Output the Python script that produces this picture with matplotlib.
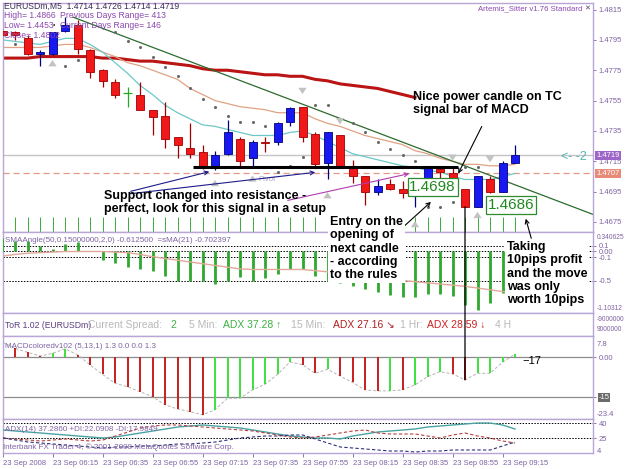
import numpy as np
import matplotlib.pyplot as plt
from matplotlib.patches import ConnectionPatch, FancyArrowPatch
from matplotlib.transforms import blended_transform_factory

plt.rcParams['font.family'] = ['Liberation Sans', 'DejaVu Sans']

# ====== data (EURUSDm M5, 23 Sep 2008) ======
opens = [1.4801, 1.4800, 1.4796, 1.4786, 1.4786, 1.4801, 1.4805, 1.4788, 1.4775, 1.4767,
         1.4760, 1.4759, 1.4749, 1.4745, 1.4731, 1.4724, 1.4721, 1.4711, 1.4720, 1.4730,
         1.4717, 1.4728, 1.4728, 1.4741, 1.4751, 1.4733, 1.4714, 1.4732, 1.4711, 1.4705,
         1.4695, 1.4700, 1.4697, 1.4693, 1.4701, 1.4710, 1.4707, 1.4697, 1.4685, 1.4703,
         1.4695, 1.4714]
highs = [1.4803, 1.4801, 1.4798, 1.4788, 1.4800, 1.4810, 1.4808, 1.4789, 1.4776, 1.4769,
         1.4764, 1.4767, 1.4749, 1.4754, 1.4731, 1.4740, 1.4726, 1.4722, 1.4742, 1.4731,
         1.4729, 1.4731, 1.4741, 1.4751, 1.4751, 1.4734, 1.4734, 1.4732, 1.4716, 1.4705,
         1.4703, 1.4703, 1.4702, 1.4702, 1.4711, 1.4711, 1.4711, 1.4697, 1.4705, 1.4705,
         1.4715, 1.4726]
lows = [1.4796, 1.4795, 1.4785, 1.4778, 1.4785, 1.4800, 1.4786, 1.4770, 1.4764, 1.4757,
        1.4751, 1.4749, 1.4732, 1.4724, 1.4717, 1.4717, 1.4710, 1.4709, 1.4719, 1.4711,
        1.4712, 1.4721, 1.4726, 1.4738, 1.4728, 1.4712, 1.4703, 1.4711, 1.4701, 1.4686,
        1.4693, 1.4696, 1.4691, 1.4685, 1.4700, 1.4703, 1.4697, 1.4685, 1.4685, 1.4694,
        1.4695, 1.4714]
closes = [1.4798, 1.4798, 1.4786, 1.4787, 1.4800, 1.4805, 1.4789, 1.4774, 1.4768, 1.4759,
          1.4760, 1.4749, 1.4744, 1.4730, 1.4726, 1.4720, 1.4711, 1.4719, 1.4734, 1.4715,
          1.4728, 1.4727, 1.4740, 1.4750, 1.4731, 1.4713, 1.4734, 1.4712, 1.4705, 1.4695,
          1.4699, 1.4697, 1.4694, 1.4701, 1.4711, 1.4708, 1.4697, 1.4685, 1.4705, 1.4695,
          1.4714, 1.4719]

ma_red = [1.4783, 1.4783, 1.4783, 1.4784, 1.4784, 1.4784, 1.4784, 1.4784, 1.4783, 1.4783,
          1.4782, 1.4781, 1.4781, 1.4780, 1.4779, 1.4778, 1.4776, 1.4775, 1.4775, 1.4774,
          1.4773, 1.4772, 1.4772, 1.4771, 1.4771, 1.4769, 1.4768, 1.4766, 1.4765, 1.4764,
          1.4763, 1.4761, 1.4759, 1.4757]
ma_cyan = [1.4795, 1.4794, 1.4793, 1.4792, 1.4794, 1.4796, 1.4796, 1.4792, 1.4787, 1.4780,
           1.4773, 1.4765, 1.4759, 1.4752, 1.4747, 1.4743, 1.4739, 1.4738, 1.4736, 1.4734,
           1.4732, 1.4732, 1.4732, 1.4734, 1.4735, 1.4732, 1.4728, 1.4724, 1.4720, 1.4718,
           1.4716, 1.4714, 1.4712, 1.4711, 1.4709, 1.4708, 1.4705, 1.4703, 1.4703, 1.4703,
           1.4705, 1.4707]
ma_tan = [1.4790, 1.4790, 1.4790, 1.4790, 1.4791, 1.4792, 1.4792, 1.4790, 1.4787, 1.4784,
          1.4780, 1.4778, 1.4775, 1.4772, 1.4769, 1.4763, 1.4759, 1.4755, 1.4753, 1.4751,
          1.4750, 1.4749, 1.4747, 1.4747, 1.4747, 1.4743, 1.4740, 1.4738, 1.4735, 1.4732,
          1.4730, 1.4728, 1.4726, 1.4722, 1.4720, 1.4717, 1.4715, 1.4713, 1.4713, 1.4712,
          1.4712, 1.4713]

sar_bars = [0, 1, 5, 6, 9, 10, 11, 12, 13, 14, 15, 16, 17, 18, 19, 20, 21, 22, 23, 24,
            25, 26, 28, 29, 30, 31, 32, 33, 34, 35, 36, 37, 38]
sar_vals = [1.4788, 1.4792, 1.4778, 1.4782, 1.4800, 1.4794, 1.4790, 1.4784, 1.4777, 1.4771,
            1.4763, 1.4756, 1.4751, 1.4745, 1.4741, 1.4741, 1.4738, 1.4708, 1.4712, 1.4718,
            1.4752, 1.4752, 1.4740, 1.4734, 1.4728, 1.4723, 1.4719, 1.4715, 1.4685, 1.4685,
            1.4688, 1.4711, 1.4711]

up_bars = [4, 17, 20, 26, 33, 38]
up_vals = [1.4780, 1.4701, 1.4704, 1.4693, 1.4674, 1.4680]
down_bars = [24, 27, 36, 39]
down_vals = [1.4761, 1.4741, 1.4717, 1.4716]

trend_x = [5.64, 47.24]
trend_y = [1.4810, 1.4680]
support_level, support_from, support_to = 1.4711, 15.2, 36.4
pivot_level = 1.4707
entry_price, exit_price = 1.4698, 1.4686
price_ticks = [1.4815, 1.4795, 1.4775, 1.4755, 1.4735, 1.4715, 1.4695, 1.4675]

sma_angle = [0.23, 0.18, 0.18, 0.09, 0.05, 0.13, 0.16, 0.0, -0.15, -0.20,
             -0.26, -0.30, -0.34, -0.42, -0.50, -0.51, -0.51, -0.56, -0.50, -0.44,
             -0.50, -0.46, -0.39, -0.31, -0.31, -0.43, -0.51, -0.55, -0.60, -0.65,
             -0.70, -0.75, -0.79, -0.79, -0.74, -0.74, -0.77, -0.92, -1.00, -0.89,
             -0.72, -0.61]
sma_line = [-0.08, -0.05, -0.03, -0.02, -0.01, 0.0, 0.0, 0.0, 0.0, -0.01,
            -0.02, -0.05, -0.09, -0.12, -0.15, -0.18, -0.21, -0.24, -0.27, -0.30,
            -0.31, -0.31, -0.31, -0.31, -0.31, -0.33, -0.35, -0.38, -0.41, -0.44,
            -0.47, -0.49, -0.50, -0.52, -0.54, -0.56, -0.58, -0.60, -0.63, -0.66,
            -0.69, -0.70]

macd_vals = [5.7, 3.4, 1.9, 0.5, 1.5, 3.2, 1.0, -2.9, -6.5, -9.9,
             -11.2, -13.1, -15.0, -18.1, -19.7, -20.7, -21.9, -20.0, -15.6, -15.6,
             -12.4, -10.3, -6.5, -1.8, -2.8, -6.1, -4.6, -7.1, -9.6, -12.4,
             -12.8, -12.8, -12.4, -10.5, -7.4, -5.5, -6.3, -8.6, -6.1, -6.1,
             -1.9, 1.1]
macd_colors = 'rrrrggr' + 'rrrrrrrrrr' + 'ggggggg' + 'rrgrrrrgrgggrrgggg'

adx_main = [33, 32, 31, 30, 29, 28, 27, 26, 25, 26, 28, 30, 32, 34, 36, 37, 38, 37, 36, 35,
            33, 31, 29, 27, 26, 25, 25, 24, 27, 29, 31, 32, 33, 34, 36, 37, 38, 39, 40, 40,
            38, 34]
adx_plus = [25, 24, 23, 22, 23, 24, 23, 22, 23, 27, 31, 35, 37, 38, 38, 37, 36, 35, 34, 33,
            32, 30, 28, 26, 25, 26, 28, 30, 32, 33, 30, 29, 29, 29, 27, 25, 28, 30, 27, 25,
            22, 20]
adx_minus = [25, 23, 21, 20, 19, 18, 17, 16, 15, 16, 16, 17, 17, 18, 19, 19, 20, 21, 23, 25,
             26, 27, 27, 28, 28, 24, 20, 16, 15, 14, 13, 12, 12, 11, 12, 12, 13, 13, 13, 13,
             17, 21]

time_labels = ['23 Sep 2008', '23 Sep 06:15', '23 Sep 06:35', '23 Sep 06:55', '23 Sep 07:15',
               '23 Sep 07:35', '23 Sep 07:55', '23 Sep 08:15', '23 Sep 08:35', '23 Sep 08:55',
               '23 Sep 09:15']

# ====== style ======
W, H = 625, 469
PURPLE = '#7e62a3'
BORDER = '#b9a6d6'
XLIM = (0.04, 47.24)
bars = np.arange(len(opens))


def px(x, y):
    # pixel position -> figure fraction
    return (x / W, 1 - y / H)


fig = plt.figure(figsize=(W / 100, H / 100), dpi=100)
fig.patch.set_facecolor('white')


def panel(top, bottom):
    ax = fig.add_axes([3 / W, 1 - bottom / H, 590 / W, (bottom - top) / H])
    ax.set_xlim(*XLIM)
    for s in ax.spines.values():
        s.set_color(BORDER)
        s.set_linewidth(1.0)
    ax.yaxis.tick_right()
    ax.tick_params(axis='y', colors=PURPLE, labelsize=5.5, length=2, width=0.6, pad=2)
    ax.set_xticks([])
    return ax


# ---- main price chart ----
ax = panel(3, 232)
ax.set_ylim(1.46684, 1.48193)
ax.set_yticks(price_ticks)
ax.set_yticklabels([f'{v:.4f}' for v in price_ticks])

ax.axhline(closes[-1], color='#c4c4c4', lw=1.0, zorder=1)
ax.axhline(pivot_level, color='#e39a88', lw=0.9, ls=(0, (5, 3)), zorder=1)
ax.plot(bars[:len(ma_red)], ma_red, color='#bb1414', lw=2.2, zorder=2)
ax.plot(bars, ma_tan, color='#e0a283', lw=0.9, zorder=2)
ax.plot(bars, ma_cyan, color='#6cc8c8', lw=0.9, zorder=2)
ax.plot(trend_x, trend_y, color='#2d6b2d', lw=0.9, zorder=2)
ax.scatter(sar_bars, sar_vals, s=1.5, color='#6a6a6a', zorder=2)
ax.vlines(bars, 1.46684, 1.4678, color='#3aaa3a', lw=0.7, zorder=1)
ax.hlines(support_level, support_from, support_to, color='black', lw=2.2, zorder=5)

for i in bars:
    o, h, l, c = opens[i], highs[i], lows[i], closes[i]
    if c > o:
        fc, ec = '#1818f0', '#00007a'
    elif c < o:
        fc, ec = '#f01818', '#a00000'
    else:
        fc, ec = '#22aa22', '#22aa22'
    ax.vlines(i, l, h, color=ec, lw=0.9, zorder=3)
    if c == o:
        ax.hlines(c, i - 0.33, i + 0.33, color=ec, lw=0.9, zorder=4)
    else:
        ax.bar(i, abs(c - o), bottom=min(o, c), width=0.64, color=fc,
               edgecolor=ec, lw=0.6, zorder=4)

arrow_style = 'simple,head_length=0.45,head_width=0.6,tail_width=0.3'
for b, v in zip(up_bars, up_vals):
    ax.annotate('', xy=(b, v + 0.00035), xytext=(b, v - 0.00035),
                arrowprops=dict(arrowstyle=arrow_style, fc='#c2c2c2', ec='none'), zorder=3)
for b, v in zip(down_bars, down_vals):
    ax.annotate('', xy=(b, v - 0.00035), xytext=(b, v + 0.00035),
                arrowprops=dict(arrowstyle=arrow_style, fc='#c2c2c2', ec='none'), zorder=3)

label_box = dict(boxstyle='square,pad=0.12', fc='white', ec='#2d8a2d', lw=0.9)
ax.text(32.55, entry_price, f'{entry_price:.4f}', color='#1e8a1e', fontsize=11,
        va='center', ha='left', bbox=label_box, zorder=6)
ax.text(38.8, exit_price, f'{exit_price:.4f}', color='#1e8a1e', fontsize=11,
        va='center', ha='left', bbox=label_box, zorder=6)

btr = blended_transform_factory(ax.transAxes, ax.transData)
ax.text(1.006, closes[-1], f'{closes[-1]:.4f}', transform=btr, fontsize=5.5, color='white',
        va='center', ha='left', bbox=dict(boxstyle='square,pad=0.15', fc='#9c66c8', ec='none'),
        zorder=8, clip_on=False)
ax.text(1.006, pivot_level, f'{pivot_level:.4f}', transform=btr, fontsize=5.5, color='white',
        va='center', ha='left', bbox=dict(boxstyle='square,pad=0.15', fc='#e88a78', ec='none'),
        zorder=8, clip_on=False)
ax.text(20.5, 1.4703, 'Pivot', fontsize=5.5, color='#b2a4c2', va='center', zorder=3)

# ---- SMAAngle panel ----
ax_s = panel(232, 313)
ax_s.set_ylim(-1.06, 0.336)
ax_s.vlines(bars, 0, sma_angle, color='#2fa82f', lw=2.0, zorder=3)
ax_s.plot(bars, sma_line, color='#e0a898', lw=1.0, zorder=4)
for lv in [0.1, 0.0, -0.1, -0.5]:
    ax_s.axhline(lv, color='black', lw=0.7, ls=(0, (1.5, 1.5)), zorder=2)
ax_s.set_yticks([0.1, 0.0, -0.1, -0.5])
ax_s.set_yticklabels(['0.1', '0.00', '-0.1', '-0.5'])
ax_s.text(1.006, 0.93, '0.340625', transform=ax_s.transAxes, fontsize=4.8, color=PURPLE, va='center')
ax_s.text(1.006, 0.06, '-1.10312', transform=ax_s.transAxes, fontsize=4.8, color=PURPLE, va='center')
ax_s.text(0.004, 0.9, 'SMAAngle(50,0.15000000,2,0) -0.612500  =sMA(21) -0.702397',
          transform=ax_s.transAxes, fontsize=5.8, color=PURPLE, va='center')

# ---- ToR info panel ----
ax_t = panel(313, 336)
ax_t.set_ylim(0, 1)
ax_t.set_yticks([])
ax_t.text(1.006, 0.72, '-9000000', transform=ax_t.transAxes, fontsize=4.8, color=PURPLE, va='center')
ax_t.text(1.006, 0.3, '9000000', transform=ax_t.transAxes, fontsize=4.8, color=PURPLE, va='center')
tor_items = [
    ('ToR 1.02 (EURUSDm)', 5, '#5b3f7f', 6.2),
    ('Current Spread:', 88, '#b8b8b8', 7.5),
    ('2', 170, '#3cb043', 7.5),
    ('5 Min:', 189, '#b8b8b8', 7.5),
    ('ADX 37.28 \u2191', 223, '#3cb043', 7.5),
    ('15 Min:', 291, '#b8b8b8', 7.5),
    ('ADX 27.16 \u2198', 333, '#b22020', 7.5),
    ('1 Hr:', 400, '#b8b8b8', 7.5),
    ('ADX 28.59 \u2193', 427, '#d02020', 7.5),
    ('4 H', 495, '#b8b8b8', 7.5),
]
for s, x, col, fs in tor_items:
    fig.text(*px(x, 325), s, color=col, fontsize=fs, va='center', ha='left')

# ---- MACD panel ----
ax_m = panel(336, 419)
ax_m.set_ylim(-23.5, 8.1)
ax_m.axhline(0, color='#8c8c8c', lw=0.9, zorder=1)
ax_m.axhline(-15, color='#8c8c8c', lw=0.9, zorder=1)
ax_m.vlines(bars, 0, macd_vals, colors=['#c81e1e' if k == 'r' else '#3ee03e' for k in macd_colors],
            lw=1.4, zorder=3)
ax_m.plot(bars, macd_vals, color='#b4b4b4', lw=0.7, ls=(0, (3, 2)), zorder=2)
ax_m.set_yticks([0, -15])
ax_m.set_yticklabels(['0.00', '-15'])
ax_m.get_yticklabels()[1].set_bbox(dict(boxstyle='square,pad=0.1', fc='#6a6a6a', ec='none'))
ax_m.get_yticklabels()[1].set_color('white')
ax_m.text(1.006, 0.9, '7.8', transform=ax_m.transAxes, fontsize=5.5, color=PURPLE, va='center')
ax_m.text(1.006, 0.06, '-23.4', transform=ax_m.transAxes, fontsize=5.5, color=PURPLE, va='center')
ax_m.text(0.004, 0.87, 'MACDcoloredv102 (5,13,1) 1.3 0.0 0.0 1.3', transform=ax_m.transAxes,
          fontsize=5.8, color=PURPLE, va='center')
ax_m.text(41.6, -1.6, '\u221217', fontsize=8, color='black', va='center')

# ---- ADX panel ----
ax_a = panel(419, 453)
ax_a.set_ylim(10, 44)
for lv in [40, 25]:
    ax_a.axhline(lv, color='black', lw=0.7, ls=(0, (1.5, 1.5)), zorder=1)
ax_a.plot(bars, adx_main, color='#4aa3a3', lw=1.0, zorder=3)
ax_a.plot(bars, adx_plus, color='#b84040', lw=0.8, ls=(0, (3, 2)), zorder=3)
ax_a.plot(bars, adx_minus, color='#30307a', lw=0.8, ls=(0, (3, 2)), zorder=3)
ax_a.set_yticks([40, 25])
ax_a.set_yticklabels(['40', '25'])
ax_a.text(1.006, 0.05, '4', transform=ax_a.transAxes, fontsize=5.5, color=PURPLE, va='center')
ax_a.text(0.004, 0.7, 'ADX(14) 37.2860 +DI:22.0908 -DI:17.9849', transform=ax_a.transAxes,
          fontsize=5.8, color=PURPLE, va='center')
ax_a.text(0.0, 0.17, 'Interbank FX Trader 4, \u00a9 2001-2008 MetaQuotes Software Corp.',
          transform=ax_a.transAxes, fontsize=5.8, color=PURPLE, va='center')
ax_a.set_xticks(np.arange(0, len(opens), 4))
ax_a.set_xticklabels(time_labels, ha='left')
ax_a.tick_params(axis='x', colors=PURPLE, labelsize=5.5, length=3, width=0.6, pad=2)

# ---- header texts ----
fig.text(*px(4, 6), 'EURUSDm,M5  %.4f %.4f %.4f %.4f' % (opens[-1], highs[-1], lows[-1], closes[-1]),
         fontsize=6.2, color='#3a2a55', va='center')
hdr = '#8b48b0'
fig.text(*px(4, 16), 'High= 1.4866', fontsize=6.2, color=hdr, va='center')
fig.text(*px(60, 16), 'Previous Days Range= 413', fontsize=6.2, color=hdr, va='center')
fig.text(*px(4, 25), 'Low= 1.4453', fontsize=6.2, color=hdr, va='center')
fig.text(*px(53, 25), '\u2022', fontsize=5, color='#333333', va='center')
fig.text(*px(60, 25), 'Current Days Range= 146', fontsize=6.2, color=hdr, va='center')
fig.text(*px(4, 35), 'Close= 1.4802', fontsize=6.2, color=hdr, va='center')
fig.text(*px(478, 9), 'Artemis_Sitter v1.76 Standard', fontsize=5.6, color=hdr, va='center')
fig.text(*px(584, 9), '\u2715', fontsize=5, color='#5b3f7f', va='center')
fig.text(*px(561, 157), '<- -2', fontsize=9, color='#4fb3b3', va='center')

# ---- commentary ----
note = dict(fontsize=9, fontweight='bold', color='black', va='top', ha='left', linespacing=1.15)
white = dict(boxstyle='square,pad=0.15', fc='white', ec='none')
fig.text(*px(413, 91), 'Nice power candle on TC\nsignal bar of MACD', **note)
fig.text(*px(104, 190), 'Support changed into resistance -\nperfect, look for this signal in a setup', **note)
fig.text(*px(330, 216), 'Entry on the\nopening of\nnext candle\n- according\nto the rules', bbox=white, **note)
fig.text(*px(507, 241), 'Taking\n10pips profit\nand the move\nwas only\nworth 10pips', bbox=white, **note)


def connector(p0, p1, color='black', lw=0.8):
    fig.add_artist(FancyArrowPatch(px(*p0), px(*p1), transform=fig.transFigure,
                                   arrowstyle='->', mutation_scale=7, color=color, lw=lw, zorder=2))


connector((128, 192), (212, 171), color='#1c1c8c')
connector((128, 194), (318, 172), color='#1c1c8c')
connector((285, 201), (412, 173), color='#b23cb2')
connector((401, 229), (433, 200))
connector((483, 124), (457, 176))
connector((532, 241), (525, 216))

# TC signal bar link: candle low -> MACD bar
fig.add_artist(ConnectionPatch(xyA=(37, lows[37]), coordsA=ax.transData,
                               xyB=(37, macd_vals[37]), coordsB=ax_m.transData,
                               color='black', lw=0.9, zorder=2))

fig.savefig('out.png', dpi=100)
